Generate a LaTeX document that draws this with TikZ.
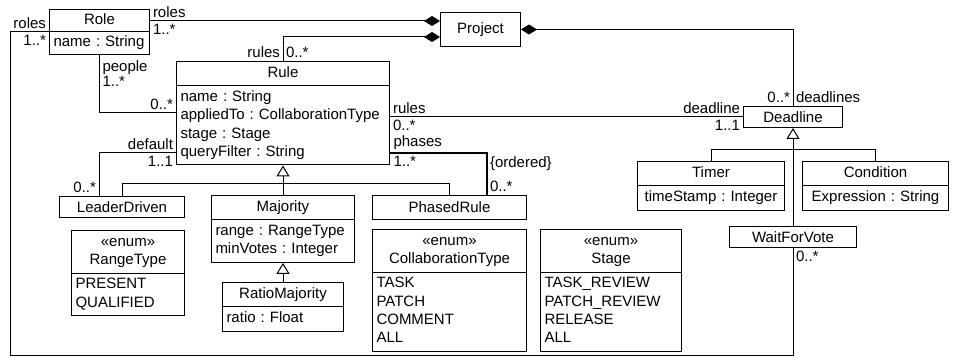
\documentclass[tikz,border=0pt]{standalone}
\usepackage{fontspec}
\setmainfont{Liberation Sans}
\usetikzlibrary{arrows.meta,shapes.multipart}

\newcommand{\umlfont}{\fontsize{15}{18.3}\selectfont\frenchspacing}

\begin{document}
\begin{tikzpicture}[
  x=1pt, y=-1pt, line width=1pt,
  umlclass/.style={rectangle split, rectangle split parts=2, draw, fill=white, anchor=north west,
    text width=#1, inner xsep=4pt, inner ysep=2.5pt, align=center, font=\umlfont},
  umlbox/.style={rectangle, draw, fill=white, anchor=north west, minimum width=#1,
    minimum height=21pt, inner sep=0pt, font=\umlfont},
  lbl/.style={font=\umlfont, inner sep=2.5pt},
  comp/.style={-{Diamond[length=16pt,width=10pt]}},
  inh/.style={-{Triangle[open,length=11pt,width=13pt]}}
]
\useasboundingbox (0,0) rectangle (953,358);

\node[umlclass=92, inner ysep=1.5pt] (role) at (49,9) {\strut Role\nodepart{two}\raggedright\strut name : String\par};
\node[umlbox=80, minimum height=34pt] (project) at (440,12) {Project};
\node[umlclass=205] (rule) at (176,61) {\strut Rule\nodepart{two}\raggedright\strut name : String\\appliedTo : CollaborationType\\stage : Stage\\queryFilter : String\strut\par};
\node[umlbox=99] (deadline) at (743,106) {Deadline};
\node[umlclass=139] (timer) at (637,161) {\strut Timer\nodepart{two}\strut timeStamp : Integer};
\node[umlclass=138] (condition) at (802,161) {\strut Condition\nodepart{two}\strut Expression : String};
\node[umlbox=127] (waitvote) at (729,226) {WaitForVote};
\node[umlbox=125] (leader) at (59,196) {LeaderDriven};
\node[umlclass=135] (majority) at (211,195) {\strut Majority\nodepart{two}\raggedright\strut range : RangeType\\minVotes : Integer\strut\par};
\node[umlbox=154, minimum height=24pt] (phased) at (372,195) {PhasedRule};
\node[umlclass=113] (ratio) at (222,282) {\strut RatioMajority\nodepart{two}\raggedright\strut ratio : Float\par};
\node[umlclass=105] (rangetype) at (71,230) {\strut «enum»\\RangeType\strut\nodepart{two}\raggedright\strut PRESENT\\QUALIFIED\strut\par};
\node[umlclass=146] (collabtype) at (372,229) {\strut «enum»\\CollaborationType\strut\nodepart{two}\raggedright\strut TASK\\PATCH\\COMMENT\\ALL\strut\par};
\node[umlclass=133] (stagetype) at (540,229) {\strut «enum»\\Stage\strut\nodepart{two}\raggedright\strut TASK\_REVIEW\\PATCH\_REVIEW\\RELEASE\\ALL\strut\par};
\coordinate (loop) at (10,355);

% compositions into Project
\draw[comp] (role.east |- 0,21) -- node[lbl, pos=0, above right] {roles} node[lbl, pos=0, below right] {1..*} (project.west |- 0,21);
\draw[comp] (rule.north) |- node[lbl, pos=0, above left] {rules} node[lbl, pos=0, above right] {0..*} (project.west |- 0,37);
\draw[comp] (deadline.north) |- node[lbl, pos=0, above left] {0..*} node[lbl, pos=0, above right] {deadlines} (project.east);

% associations
\draw (role.south) |- node[lbl, pos=0, below right, yshift=-3pt, align=left] {people\\[-3pt]1..*} node[lbl, pos=1, above left] {0..*} (rule.west |- 0,113);
\draw (role.text split west) -| node[lbl, pos=0, above left] {roles} node[lbl, pos=0, below left] {1..*} (loop) -| node[lbl, pos=1, below right] {0..*} (waitvote.south);
\draw (rule.east |- deadline.west) -- node[lbl, pos=0, above right] {rules} node[lbl, pos=0, below right] {0..*}
  node[lbl, pos=1, above left] {deadline} node[lbl, pos=1, below left] {1..1} (deadline.west);
\draw[line width=2pt] (rule.east |- 0,153) -| node[lbl, pos=0, above right] {phases} node[lbl, pos=0, below right] {1..*}
  node[lbl, pos=0.5, below right] {\{ordered\}} node[lbl, pos=1, above right] {0..*} ([xshift=37pt]phased.north);
\draw (rule.west |- 0,153) -| node[lbl, pos=0, above left] {default} node[lbl, pos=0, below left] {1..1} node[lbl, pos=1, above left] {0..*} ([xshift=-23pt]leader.north);

% generalizations
\draw (leader.north) |- (phased.north |- 0,184) -- (phased.north);
\draw[inh] (majority.north) -- (rule.south);
\draw[inh] (ratio.north) -- (majority.south);
\draw (timer.north) |- (condition.north |- 0,150) -- (condition.north);
\draw[inh] (waitvote.north) -- (deadline.south);

\end{tikzpicture}
\end{document}
